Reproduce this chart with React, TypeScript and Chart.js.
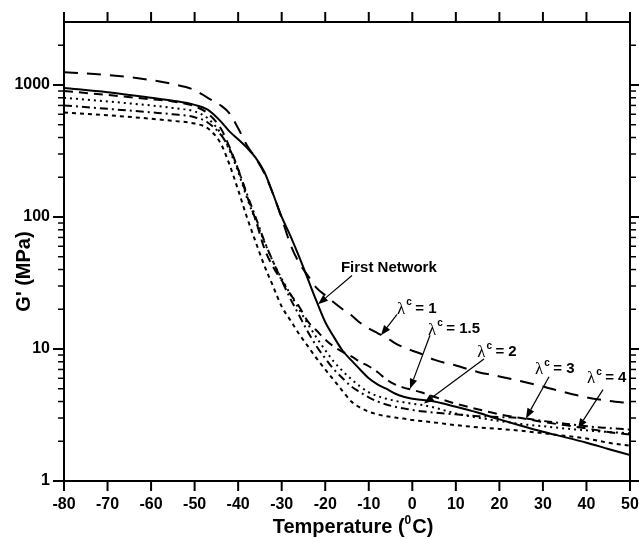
import { useEffect, useRef } from "react";
import { Chart, registerables } from "chart.js";

Chart.register(...registerables);

// ---- data (temperature in °C, G' in MPa) ----
const temperatures = [-80, -70, -60, -55, -50, -47, -44, -42, -40, -38, -36, -34, -32, -30, -28, -26, -24, -22, -20, -18, -16, -14, -12, -10, -8, -6, -4, -2, 0, 2, 5, 10, 15, 20, 25, 30, 35, 40, 45, 50];

const firstNetwork = [950, 880, 800, 760, 707, 650, 530, 445, 388, 335, 282, 220, 150, 100, 72, 50, 34, 23, 16, 12.3, 9.7, 8.2, 7.0, 6.0, 5.4, 5.0, 4.6, 4.35, 4.2, 4.12, 4.0, 3.65, 3.3, 2.93, 2.62, 2.36, 2.15, 1.95, 1.75, 1.57];
const lambda1 = [1250, 1190, 1090, 1015, 915, 800, 700, 610, 470, 350, 280, 215, 150, 98, 62, 45, 36, 29, 25.5, 22.5, 20, 18, 15.8, 14.3, 13.2, 12.2, 11.1, 10.3, 9.7, 9.2, 8.3, 7.5, 6.7, 6.2, 5.7, 5.2, 4.7, 4.3, 4.05, 3.88];
const lambda15 = [900, 840, 780, 750, 690, 610, 470, 340, 230, 145, 95, 58, 42, 33, 26, 21, 16.2, 13.8, 11.8, 10.4, 9.5, 8.8, 8.0, 7.4, 6.7, 5.9, 5.4, 5.1, 4.9, 4.7, 4.35, 3.85, 3.5, 3.2, 3.0, 2.8, 2.65, 2.5, 2.35, 2.25];
const lambda2 = [800, 750, 700, 670, 630, 560, 430, 320, 220, 140, 95, 65, 46, 34, 26, 20, 15.5, 12.2, 9.8, 8.0, 6.8, 5.9, 5.2, 4.7, 4.4, 4.2, 4.05, 3.95, 3.85, 3.78, 3.6, 3.25, 3.02, 2.85, 2.7, 2.6, 2.5, 2.42, 2.35, 2.3];
const lambda3 = [700, 660, 620, 600, 570, 520, 420, 330, 230, 150, 100, 66, 46, 33, 24, 18, 13.5, 10.5, 8.5, 7.0, 6.0, 5.2, 4.7, 4.3, 4.0, 3.8, 3.65, 3.55, 3.45, 3.38, 3.3, 3.2, 3.1, 3.05, 3.0, 2.85, 2.72, 2.6, 2.52, 2.45];
const lambda4 = [620, 590, 555, 535, 510, 470, 360, 250, 160, 100, 65, 43, 30, 21, 16.5, 13, 10.5, 8.5, 7.0, 5.8, 4.8, 4.0, 3.6, 3.35, 3.2, 3.1, 3.03, 2.97, 2.9, 2.85, 2.78, 2.65, 2.55, 2.48, 2.4, 2.3, 2.2, 2.1, 1.95, 1.85];

const xTickMin = -80;
const xTickMax = 50;
const xTickStep = 10;
const yMin = 1;
const yMax = 3000;
const yTickValues = [1, 2, 3, 4, 5, 6, 7, 8, 9, 10, 20, 30, 40, 50, 60, 70, 80, 90, 100, 200, 300, 400, 500, 600, 700, 800, 900, 1000, 2000];
const yTickLabels = [1, 10, 100, 1000];

// ---- annotations (data coordinates) ----
const labelTexts = ["First Network", "1", "1.5", "2", "3", "4"];
const labelT = [-16.4, -3.5, 3.6, 14.9, 28.2, 40.1];
const labelG = [41.4, 20.3, 14.1, 9.5, 7.07, 6.05];
const arrowFromT = [-13.85, -3.5, 4.06, 16.46, 31.4, 43.8];
const arrowFromG = [36.0, 18.3, 12.7, 8.4, 6.16, 4.92];
const arrowToT = [-21.66, -7.19, -0.53, 2.68, 26.1, 38.05];
const arrowToG = [21.8, 12.7, 5.0, 3.86, 2.98, 2.5];

const SANS = '"Liberation Sans", Arial, sans-serif';
const SERIF = '"Liberation Serif", "Times New Roman", serif';

function toPoints(vals: number[]) {
  return vals.map((v, i) => ({ x: temperatures[i], y: v }));
}

function drawArrow(ctx: CanvasRenderingContext2D, x1: number, y1: number, x2: number, y2: number) {
  const ang = Math.atan2(y2 - y1, x2 - x1);
  const hl = 10;
  const hw = 3.8;
  const bx = x2 - hl * Math.cos(ang);
  const by = y2 - hl * Math.sin(ang);
  ctx.beginPath();
  ctx.moveTo(x1, y1);
  ctx.lineTo(bx, by);
  ctx.lineWidth = 1.2;
  ctx.stroke();
  ctx.beginPath();
  ctx.moveTo(x2, y2);
  ctx.lineTo(bx + hw * Math.sin(ang), by - hw * Math.cos(ang));
  ctx.lineTo(bx - hw * Math.sin(ang), by + hw * Math.cos(ang));
  ctx.closePath();
  ctx.fill();
}

const decorPlugin = {
  id: "decor",
  afterDraw(chart: any) {
    const ctx: CanvasRenderingContext2D = chart.ctx;
    const { left, right, top, bottom } = chart.chartArea;
    const xs = chart.scales.x;
    const ys = chart.scales.y;
    ctx.save();
    ctx.strokeStyle = "#000";
    ctx.fillStyle = "#000";
    const seg = (a: number, b: number, c: number, d: number) => {
      ctx.beginPath();
      ctx.moveTo(a, b);
      ctx.lineTo(c, d);
      ctx.stroke();
    };
    // x ticks (bottom & top, outward)
    ctx.lineWidth = 2;
    for (const t of xs.ticks) {
      const px = xs.getPixelForValue(t.value);
      seg(px, bottom, px, bottom + 10);
      seg(px, top, px, top - 10);
    }
    // y ticks (left & right, outward, major/minor)
    for (const t of ys.ticks) {
      const py = ys.getPixelForValue(t.value);
      const major = yTickLabels.includes(t.value);
      ctx.lineWidth = major ? 2 : 1.5;
      seg(left, py, left - (major ? 11 : 6), py);
      seg(right, py, right + (major ? 9 : 6), py);
    }

    // axis titles
    ctx.textBaseline = "alphabetic";
    ctx.textAlign = "left";
    const big = `bold 20px ${SANS}`;
    const sup = `bold 12px ${SANS}`;
    ctx.font = big;
    const p1 = "Temperature (";
    const p3 = "C)";
    const w1 = ctx.measureText(p1).width;
    const w3 = ctx.measureText(p3).width;
    ctx.font = sup;
    const w2 = ctx.measureText("0").width;
    const total = w1 + w2 + 1 + w3;
    const cx = (left + right) / 2 + 6;
    const x0 = cx - total / 2;
    const base = 533;
    ctx.font = big;
    ctx.fillText(p1, x0, base);
    ctx.font = sup;
    ctx.fillText("0", x0 + w1, base - 9);
    ctx.font = big;
    ctx.fillText(p3, x0 + w1 + w2 + 1, base);

    ctx.save();
    ctx.translate(30, (top + bottom) / 2 + 20);
    ctx.rotate(-Math.PI / 2);
    ctx.font = `bold 20px ${SANS}`;
    ctx.textAlign = "center";
    ctx.fillText("G' (MPa)", 0, 0);
    ctx.restore();

    // annotations
    for (let i = 0; i < labelTexts.length; i++) {
      const lx = xs.getPixelForValue(labelT[i]);
      const ly = ys.getPixelForValue(labelG[i]);
      ctx.textBaseline = "middle";
      ctx.textAlign = "left";
      if (i === 0) {
        ctx.font = `bold 15px ${SANS}`;
        ctx.fillText(labelTexts[i], lx, ly);
      } else {
        ctx.font = `17px ${SERIF}`;
        ctx.fillText("λ", lx, ly + 1);
        const wl = ctx.measureText("λ").width;
        ctx.font = `bold 10px ${SANS}`;
        ctx.fillText("c", lx + wl + 1, ly - 6);
        ctx.font = `bold 15px ${SANS}`;
        ctx.fillText("= " + labelTexts[i], lx + wl + 10, ly);
      }
      drawArrow(
        ctx,
        xs.getPixelForValue(arrowFromT[i]),
        ys.getPixelForValue(arrowFromG[i]),
        xs.getPixelForValue(arrowToT[i]),
        ys.getPixelForValue(arrowToG[i])
      );
    }
    ctx.restore();
  },
};

export default function App() {
  const ref = useRef<HTMLCanvasElement | null>(null);
  useEffect(() => {
    if (!ref.current) return;
    const common = { borderColor: "#000", pointRadius: 0, borderWidth: 2, fill: false, cubicInterpolationMode: "monotone" as const };
    const noPad = (s: any) => { s.paddingLeft = 0; s.paddingRight = 0; s.paddingTop = 0; s.paddingBottom = 0; };
    const tickFont = { family: SANS, size: 16, weight: "bold" as const };
    const chart = new Chart(ref.current, {
      type: "line",
      data: {
        datasets: [
          { label: "First Network", data: toPoints(firstNetwork), ...common },
          { label: "λc = 1", data: toPoints(lambda1), ...common, borderDash: [14, 9] },
          { label: "λc = 1.5", data: toPoints(lambda15), ...common, borderDash: [9, 6] },
          { label: "λc = 2", data: toPoints(lambda2), ...common, borderDash: [2, 4] },
          { label: "λc = 3", data: toPoints(lambda3), ...common, borderDash: [8, 4, 2, 4] },
          { label: "λc = 4", data: toPoints(lambda4), ...common, borderDash: [4, 4] },
        ],
      },
      options: {
        animation: false,
        responsive: false,
        devicePixelRatio: 1,
        layout: { padding: 0 },
        plugins: { legend: { display: false }, tooltip: { enabled: false } },
        scales: {
          x: {
            type: "linear",
            position: "bottom",
            min: xTickMin,
            max: xTickMax,
            ticks: { stepSize: xTickStep, color: "#000", font: tickFont, padding: 14, maxRotation: 0, autoSkip: false },
            grid: { display: false, drawTicks: false },
            border: { display: true, color: "#000", width: 2 },
            afterFit: (s: any) => { s.height = 58; noPad(s); },
          },
          x2: {
            type: "linear",
            position: "top",
            min: xTickMin,
            max: xTickMax,
            ticks: { display: false, stepSize: xTickStep },
            grid: { display: false, drawTicks: false },
            border: { display: true, color: "#000", width: 2 },
            afterFit: (s: any) => { s.height = 22; noPad(s); },
          },
          y: {
            type: "logarithmic",
            position: "left",
            min: yMin,
            max: yMax,
            afterBuildTicks: (s: any) => { s.ticks = yTickValues.map((v) => ({ value: v })); },
            ticks: {
              color: "#000",
              font: tickFont,
              padding: 14,
              autoSkip: false,
              callback: (v: any) => (yTickLabels.includes(Number(v)) ? String(v) : ""),
            },
            grid: { display: false, drawTicks: false },
            border: { display: true, color: "#000", width: 2 },
            afterFit: (s: any) => { s.width = 64; noPad(s); },
          },
          y2: {
            type: "logarithmic",
            position: "right",
            min: yMin,
            max: yMax,
            ticks: { display: false },
            grid: { display: false, drawTicks: false },
            border: { display: true, color: "#000", width: 2 },
            afterFit: (s: any) => { s.width = 9; noPad(s); },
          },
        },
      },
      plugins: [decorPlugin],
    } as any);
    return () => chart.destroy();
  }, []);
  return (
    <div style={{ position: "fixed", left: 0, top: 0, width: 639, height: 539, background: "#fff" }}>
      <canvas ref={ref} width={639} height={539} style={{ display: "block" }} />
    </div>
  );
}
